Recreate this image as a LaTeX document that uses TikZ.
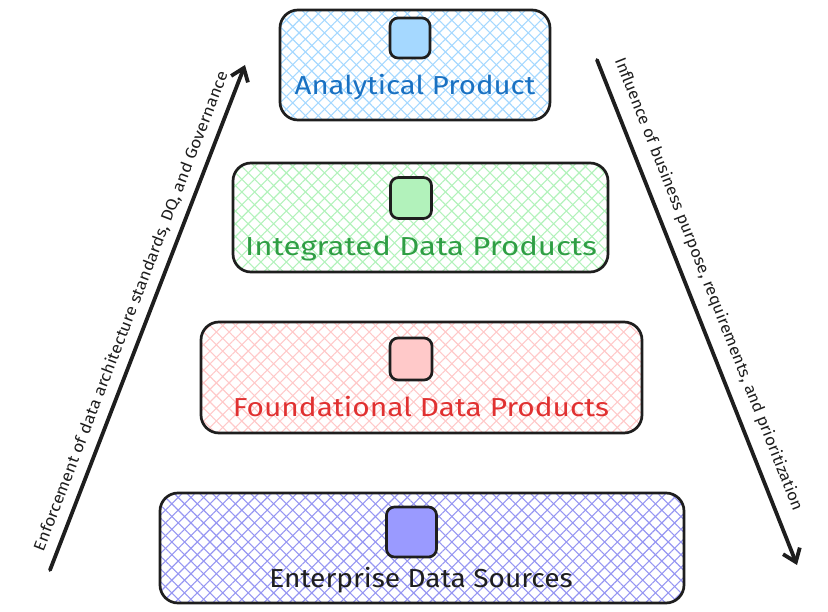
\documentclass[tikz,border=0pt]{standalone}
\usepackage{fontspec}
\setmainfont{Fira Sans}
\usetikzlibrary{patterns.meta,arrows.meta}
\definecolor{ink}{HTML}{1E1E1E}
\definecolor{hblue}{HTML}{A5D8FF}
\definecolor{tblue}{HTML}{1971C2}
\definecolor{hgreen}{HTML}{B2F2BB}
\definecolor{tgreen}{HTML}{2F9E44}
\definecolor{hred}{HTML}{FFC9C9}
\definecolor{tred}{HTML}{E03131}
\definecolor{hviolet}{HTML}{9696F2}
\definecolor{sviolet}{HTML}{9A9AFF}
\tikzset{
  layerbox/.style={draw=ink, line width=2.7pt, rounded corners=18pt, inner sep=0pt,
    preaction={pattern={Lines[angle=45,distance=9pt,line width=1.1pt]}, pattern color=#1},
    pattern={Lines[angle=-45,distance=9pt,line width=1.1pt]}, pattern color=#1},
  iconbox/.style={draw=ink, line width=2.7pt, rounded corners=8pt, fill=#1, minimum size=40pt, inner sep=0pt},
  titletext/.style={text=#1, font=\fontsize{26}{30}\selectfont, inner sep=0pt},
  sidearrow/.style={draw=ink, line width=3.8pt, line cap=round, -{Straight Barb[length=12pt,width=18pt,line width=3.8pt]}},
  sidetext/.style={text=ink, font=\fontsize{16}{19}\selectfont, inner sep=0pt}
}
\begin{document}
\begin{tikzpicture}[x=1pt,y=-1pt]
\useasboundingbox (0,0) rectangle (828,612);
% layers
\node (ap) [layerbox=hblue, minimum width=270pt, minimum height=110pt] at (415,65) {};
\node (aps) [iconbox=hblue] at (410,38) {};
\node (apt) [titletext=tblue] at (415,87) {\scalebox{1.13}[1]{Analytical Product}};

\node (ip) [layerbox=hgreen, minimum width=375pt, minimum height=109pt] at (420.5,217.5) {};
\node (ips) [iconbox=hgreen, minimum size=41pt] at (411,198) {};
\node (ipt) [titletext=tgreen] at (421,249) {\scalebox{1.2}[1]{Integrated Data Products}};

\node (fp) [layerbox=hred, minimum width=441pt, minimum height=111pt] at (421.5,377.5) {};
\node (fps) [iconbox=hred, minimum size=42pt] at (411,359) {};
\node (fpt) [titletext=tred] at (421,407) {\scalebox{1.15}[1]{Foundational Data Products}};

\node (es) [layerbox=hviolet, minimum width=524pt, minimum height=110pt] at (422,548) {};
\node (ess) [iconbox=sviolet, minimum size=50pt] at (411.5,532) {};
\node (est) [titletext=ink] at (421,580) {\scalebox{1.08}[1]{Enterprise Data Sources}};

% side arrows
\coordinate (la) at (50,570);
\coordinate (lb) at (245,65);
\draw[sidearrow] (la) -- (lb) node[pos=0.5, sloped, above=8pt, sidetext] {\scalebox{1.09}[1]{Enforcement of data architecture standards, DQ, and Governance}};
\coordinate (ra) at (597,60);
\coordinate (rb) at (797,565);
\draw[sidearrow] (ra) -- (rb) node[pos=0.46, sloped, above=11pt, sidetext] {\scalebox{1.06}[1]{Influence of business purpose, requirements, and prioritization}};
\end{tikzpicture}
\end{document}
